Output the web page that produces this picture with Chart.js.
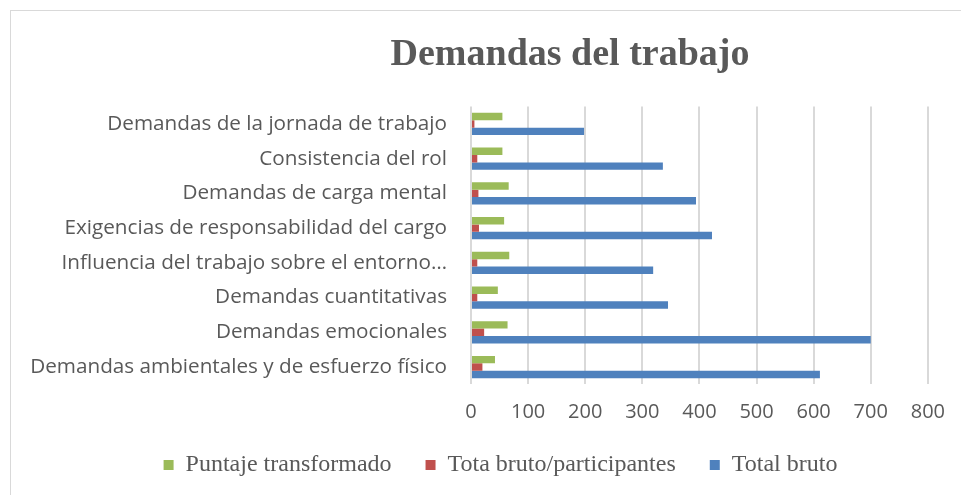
<!DOCTYPE html>
<html>
<head>
<meta charset="utf-8">
<script src="https://cdn.jsdelivr.net/npm/chart.js@4.4.1/dist/chart.umd.min.js"></script>
<style>
  html, body { margin: 0; padding: 0; background: #fff; }
  #frame { position: absolute; left: 10px; top: 10px; width: 960px; height: 490px; border-left: 1px solid #d9d9d9; border-top: 1px solid #d9d9d9; }
  #wrap { position: absolute; left: 0; top: 0; width: 961px; height: 495px; }
</style>
</head>
<body>
<div id="frame"></div>
<div id="wrap"><canvas id="chart" width="961" height="495"></canvas></div>
<script>
const categories = [
  'Demandas de la jornada de trabajo',
  'Consistencia del rol',
  'Demandas de carga mental',
  'Exigencias de responsabilidad del cargo',
  'Influencia del trabajo sobre el entorno…',
  'Demandas cuantitativas',
  'Demandas emocionales',
  'Demandas ambientales y de esfuerzo físico'
];
const puntajeTransformado = [55, 55, 66, 58, 67, 47, 64, 42];
const brutoParticipantes = [6, 11, 13, 14, 11, 11, 23, 20];
const totalBruto = [198, 336, 394, 422, 319, 345, 700, 611];
const xTicks = [0, 100, 200, 300, 400, 500, 600, 700, 800];

const GRAY = '#595959';

// title and legend sit right of the canvas centre in the original
const shiftBlocks = {
  id: 'shiftBlocks',
  afterLayout(chart) {
    chart.titleBlock.left += 212;
    chart.legend.left += 73;
  },
};

new Chart(document.getElementById('chart'), {
  type: 'bar',
  data: {
    labels: categories,
    datasets: [
      { label: 'Puntaje transformado', data: puntajeTransformado, backgroundColor: '#9bbb59' },
      { label: 'Tota bruto/participantes', data: brutoParticipantes, backgroundColor: '#c0504d' },
      { label: 'Total bruto', data: totalBruto, backgroundColor: '#4f81bd' },
    ],
  },
  options: {
    indexAxis: 'y',
    responsive: false,
    animation: false,
    layout: { padding: { left: 0, right: 33, top: 0, bottom: 8 } },
    datasets: { bar: { categoryPercentage: 0.64, barPercentage: 1, borderWidth: 0 } },
    plugins: {
      title: {
        display: true,
        text: 'Demandas del trabajo',
        color: GRAY,
        font: { family: '"Liberation Serif", serif', size: 38, weight: 'bold' },
        padding: { top: 32, bottom: 29 },
      },
      legend: {
        position: 'bottom',
        labels: {
          color: GRAY,
          boxWidth: 10,
          boxHeight: 10,
          padding: 34,
          font: { family: '"Liberation Serif", serif', size: 24 },
        },
      },
      tooltip: { enabled: false },
    },
    scales: {
      x: {
        min: 0,
        max: 800,
        afterBuildTicks: s => { s.ticks = xTicks.map(v => ({ value: v })); },
        afterFit: s => { s.height = 34.6; },
        grid: { color: '#d9d9d9', lineWidth: 2, drawTicks: false },
        border: { display: false },
        ticks: { color: GRAY, padding: 16, font: { family: '"Open Sans", sans-serif', size: 20 } },
      },
      y: {
        afterFit: s => { s.width = 471; },
        grid: { display: false, drawTicks: false },
        border: { display: false },
        ticks: { color: GRAY, padding: 24, font: { family: '"Open Sans", sans-serif', size: 20.7 } },
      },
    },
  },
  plugins: [shiftBlocks],
});
</script>
</body>
</html>
